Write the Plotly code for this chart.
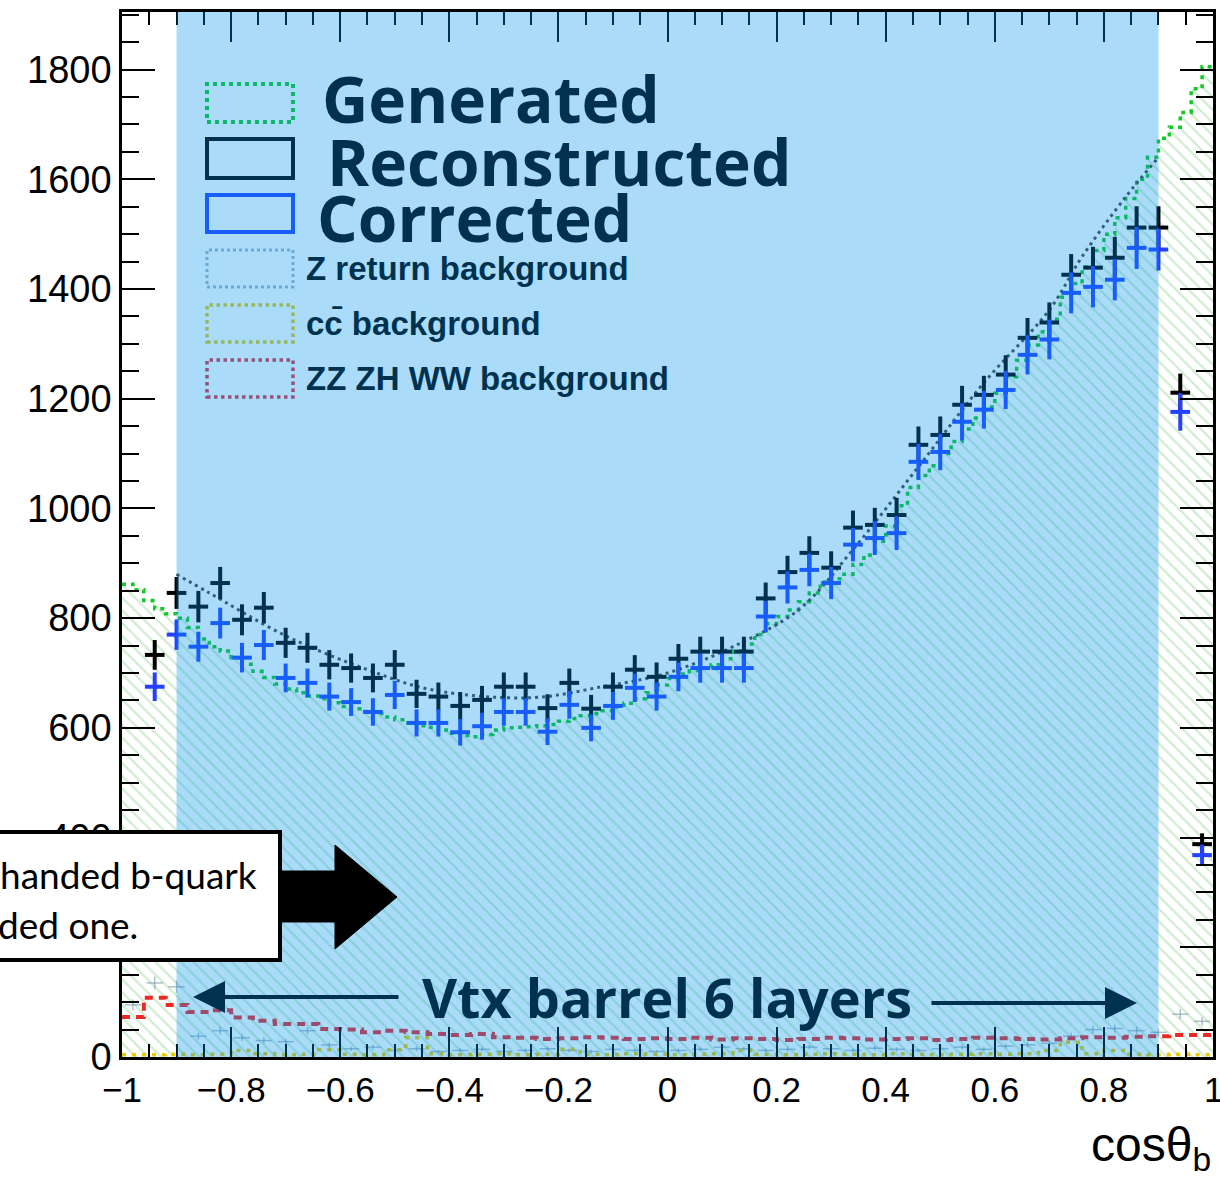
import numpy as np
import plotly.graph_objects as go

# ---------------- data ----------------
BIN_LO = -1.0
BIN_W = 0.04          # data / background histograms: 50 bins
N_BINS = 50
GEN_BIN_W = 0.02      # generated histogram: 100 bins
GEN_N_BINS = 100

generated = [862, 852, 832, 817, 808, 800, 783, 762, 748, 740,
             728, 716, 703, 692, 680, 671, 664, 658, 653, 646,
             639, 635, 630, 626, 620, 615, 609, 604, 601, 596,
             590, 586, 584, 588, 596, 600, 601, 602, 604, 606,
             612, 617, 622, 626, 631, 638, 645, 653, 664, 678,
             690, 698, 704, 709, 715, 726, 740, 753, 770, 790,
             803, 815, 830, 846, 866, 872, 880, 898, 915, 940,
             968, 1005, 1038, 1060, 1078, 1100, 1122, 1145, 1165, 1185,
             1210, 1240, 1270, 1298, 1322, 1345, 1385, 1410, 1440, 1470,
             1500, 1530, 1565, 1600, 1640, 1675, 1695, 1722, 1765, 1805]

reconstructed = [None, 733, 846, 821, 864, 797, 819, 755, 746, 715,
                 709, 691, 715, 662, 657, 640, 651, 675, 675, 636,
                 682, 635, 675, 706, 693, 726, 739, 739, 739, 836,
                 884, 919, 892, 965, 970, 988, 1116, 1134, 1189, 1207,
                 1244, 1311, 1339, 1426, 1439, 1457, 1512, 1512, 1211, 388]

corrected = [None, 675, 770, 748, 791, 728, 751, 691, 682, 657,
             647, 629, 660, 609, 609, 592, 603, 629, 629, 593,
             642, 600, 640, 673, 657, 693, 709, 709, 709, 803,
             856, 888, 864, 934, 946, 955, 1085, 1103, 1158, 1180,
             1216, 1280, 1308, 1393, 1404, 1417, 1475, 1472, 1176, 368]

z_return_bkg = [95, 135, 128, 38, 48, 35, 30, 28, 48, 22,
                15, 18, 12, 15, 10, 12, 14, 10, 12, 15,
                12, 10, 14, 12, 10, 12, 14, 18, 15, 12,
                14, 18, 15, 12, 16, 14, 12, 15, 18, 14,
                20, 22, 25, 38, 50, 52, 48, 45, 78, 65]

cc_bkg = [4, 4, 5, 4, 5, 12, 6, 4, 5, 13,
          5, 4, 13, 35, 6, 4, 5, 6, 4, 5,
          14, 5, 4, 6, 5, 4, 5, 6, 12, 5,
          4, 5, 6, 5, 4, 6, 5, 4, 5, 6,
          5, 6, 12, 27, 6, 12, 5, 4, 5, 4]

zz_zh_ww_bkg = [73, 108, 95, 82, 85, 72, 66, 60, 60, 51,
                50, 45, 48, 45, 42, 40, 42, 36, 35, 33,
                34, 36, 35, 33, 34, 33, 35, 32, 34, 33,
                31, 33, 35, 34, 32, 33, 34, 31, 33, 35,
                34, 33, 32, 34, 36, 35, 37, 38, 40, 40]

fit_x = [-0.90, -0.84, -0.70, -0.55, -0.43, -0.25, -0.12, 0.00, 0.12, 0.24,
         0.34, 0.46, 0.58, 0.70, 0.76, 0.84, 0.90]
fit_y = [880, 846, 768, 706, 669, 655, 675, 700, 748, 815,
         925, 1076, 1229, 1362, 1459, 1568, 1640]

x_ticks = [-1, -0.8, -0.6, -0.4, -0.2, 0, 0.2, 0.4, 0.6, 0.8, 1]
vtx_region = [-0.9, 0.9]

# ---------------- helpers ----------------
centers = BIN_LO + BIN_W * (np.arange(N_BINS) + 0.5)
edges = BIN_LO + BIN_W * np.arange(N_BINS + 1)
gen_edges = BIN_LO + GEN_BIN_W * np.arange(GEN_N_BINS + 1)


def step_xy(vals, e=edges):
    return list(e), list(vals) + [vals[-1]]


def err(vals):
    return [np.sqrt(v) if v is not None else None for v in vals]


L, R, T, B = 122, 7, 12, 120
W, H = 1220, 1177
PW, PH = W - L - R, H - T - B


def xp(px):
    return (px - L) / PW


def yp(py):
    return (H - B - py) / PH


NAVY = "rgb(0,50,80)"
fig = go.Figure()

gx, gy = step_xy(generated, gen_edges)
fig.add_trace(go.Scatter(
    x=gx, y=gy, mode="lines", line=dict(shape="hv", color="rgb(20,200,40)", width=3.5, dash="4px,5px"),
    fill="tozeroy", fillcolor="rgba(255,255,255,0)",
    fillpattern=dict(shape="\\", fgcolor="rgba(130,205,130,0.75)", bgcolor="rgba(255,255,255,0)",
                     size=9, solidity=0.25, fillmode="overlay"),
    showlegend=False, hoverinfo="skip"))

fig.add_trace(go.Scatter(
    x=centers, y=z_return_bkg, mode="markers", marker=dict(size=1, color="rgba(0,0,0,0)"),
    error_x=dict(type="constant", value=0.015, width=0, thickness=1.5, color="rgba(110,140,170,0.55)"),
    error_y=dict(type="data", array=err(z_return_bkg), width=0, thickness=1.5, color="rgba(110,140,170,0.55)"),
    showlegend=False, hoverinfo="skip"))

cx, cy = step_xy(cc_bkg)
fig.add_trace(go.Scatter(
    x=cx, y=cy, mode="lines", line=dict(shape="hv", color="rgb(235,200,0)", width=3.5, dash="4px,6px"),
    showlegend=False, hoverinfo="skip"))

zx, zy = step_xy(zz_zh_ww_bkg)
fig.add_trace(go.Scatter(
    x=zx, y=zy, mode="lines", line=dict(shape="hv", color="rgb(235,40,40)", width=4, dash="8px,6px"),
    showlegend=False, hoverinfo="skip"))

fig.add_trace(go.Scatter(
    x=fit_x, y=fit_y, mode="lines", line=dict(shape="spline", color="rgb(70,70,70)", width=3, dash="3px,4px"),
    showlegend=False, hoverinfo="skip"))

fig.add_trace(go.Scatter(
    x=centers, y=reconstructed, mode="markers", marker=dict(size=1, color="rgba(0,0,0,0)"),
    error_x=dict(type="constant", value=0.018, width=0, thickness=4, color="black"),
    error_y=dict(type="data", array=err(reconstructed), width=0, thickness=4, color="black"),
    showlegend=False, hoverinfo="skip"))

fig.add_trace(go.Scatter(
    x=centers, y=corrected, mode="markers", marker=dict(size=1, color="rgba(0,0,0,0)"),
    error_x=dict(type="constant", value=0.018, width=0, thickness=4, color="rgb(35,65,255)"),
    error_y=dict(type="data", array=err(corrected), width=0, thickness=4, color="rgb(35,65,255)"),
    showlegend=False, hoverinfo="skip"))

shapes = []
# legend boxes
boxes = [
    (84, 122, "rgb(20,200,40)", "dot", 4),
    (139, 178, "black", "solid", 4),
    (195, 232, "rgb(35,65,255)", "solid", 4),
    (250, 287, "rgba(120,150,180,0.7)", "dot", 3),
    (305, 342, "rgb(225,200,20)", "dot", 3.5),
    (360, 397, "rgb(225,50,60)", "dot", 3.5),
]
for y0, y1, col, dash, lw in boxes:
    shapes.append(dict(type="rect", xref="paper", yref="paper", x0=xp(207), x1=xp(293),
                       y0=yp(y1), y1=yp(y0), line=dict(color=col, width=lw, dash=dash),
                       fillcolor="rgba(0,0,0,0)", layer="above"))
# Vtx barrel overlay
shapes.append(dict(type="rect", xref="x", yref="paper", x0=vtx_region[0], x1=vtx_region[1], y0=0, y1=1,
                   fillcolor="rgba(0,150,240,0.333)", line=dict(width=0), layer="above"))
# text box
shapes.append(dict(type="rect", xref="paper", yref="paper", x0=xp(-10), x1=xp(280), y0=yp(960), y1=yp(832),
                   fillcolor="white", line=dict(color="black", width=4), layer="above"))
# big block arrow
pts = [(280, 871), (335, 871), (335, 845), (397, 897), (335, 949), (335, 922), (280, 922)]
path = "M " + " L ".join(f"{xp(a):.5f},{yp(b):.5f}" for a, b in pts) + " Z"
shapes.append(dict(type="path", xref="paper", yref="paper", path=path, fillcolor="black",
                   line=dict(color="black", width=1), layer="above"))

annotations = []


def txt(text, px, py, size, family, color=NAVY, xanchor="left"):
    annotations.append(dict(text=text, x=xp(px), y=yp(py), xref="paper", yref="paper",
                            xanchor=xanchor, yanchor="middle", showarrow=False,
                            font=dict(size=size, family=family, color=color)))


BIG = "Open Sans, Lato, sans-serif"
SMALL = "Liberation Sans, Arial, sans-serif"
txt("<b>Generated</b>", 320, 99, 64, BIG)
txt("<b>Reconstructed</b>", 325, 161, 64, BIG)
txt("<b>Corrected</b>", 315, 217, 64, BIG)
txt("<b>Z return background</b>", 304, 268, 33, SMALL)
txt("<b>cc\u0304 background</b>", 304, 323, 33, SMALL)
txt("<b>ZZ ZH WW background</b>", 304, 378, 33, SMALL)
txt("<b>Vtx barrel 6 layers</b>", 667, 997, 54, BIG, xanchor="center")
txt("handed b-quark", 259, 874, 37, "Lato, sans-serif", color="black", xanchor="right")
txt("ded one.", -4, 924, 37, "Lato, sans-serif", color="black", xanchor="left")

# last x tick label (plotly drops it at the figure edge)
annotations.append(dict(text=str(x_ticks[-1]), x=x_ticks[-1], xref="x", y=yp(1068), yref="paper",
                        xanchor="center", yanchor="top", showarrow=False,
                        font=dict(size=35, family=SMALL, color="black")))

# arrows
annotations.append(dict(x=xp(193), y=yp(997), xref="paper", yref="paper", ax=400 - 193, ay=0,
                        text="", showarrow=True, arrowhead=2, arrowsize=1.6, arrowwidth=4, arrowcolor=NAVY))
annotations.append(dict(x=xp(1137), y=yp(1003), xref="paper", yref="paper", ax=930 - 1137, ay=0,
                        text="", showarrow=True, arrowhead=2, arrowsize=1.6, arrowwidth=4, arrowcolor=NAVY))
# x title
annotations.append(dict(text="cos\u03b8<sub>b</sub>", x=xp(1213), y=yp(1116), xref="paper", yref="paper",
                        xanchor="right", yanchor="top", showarrow=False,
                        font=dict(size=48, family=SMALL, color="black")))

fig.update_layout(
    width=W, height=H, margin=dict(l=L, r=R, t=T, b=B, autoexpand=False),
    paper_bgcolor="white", plot_bgcolor="white",
    shapes=shapes, annotations=annotations, showlegend=False,
    xaxis=dict(range=[-1, 1], tickvals=x_ticks, ticks="inside", ticklen=30, tickwidth=2, tickcolor="black",
               showline=True, linecolor="black", linewidth=2.5, mirror="ticks", showgrid=False, zeroline=False,
               automargin=False,
               minor=dict(dtick=0.05, tick0=-1, ticks="inside", ticklen=13, tickwidth=2, tickcolor="black"),
               tickfont=dict(size=35, family=SMALL, color="black")),
    yaxis=dict(range=[0, 1905], dtick=200, tick0=0, ticks="inside", ticklen=33, tickwidth=2, tickcolor="black",
               showline=True, linecolor="black", linewidth=2.5, mirror="ticks", showgrid=False, zeroline=False,
               automargin=False,
               minor=dict(dtick=50, tick0=0, ticks="inside", ticklen=17, tickwidth=2, tickcolor="black"),
               tickfont=dict(size=38, family=SMALL, color="black")),
)

fig.write_html("out.html")
